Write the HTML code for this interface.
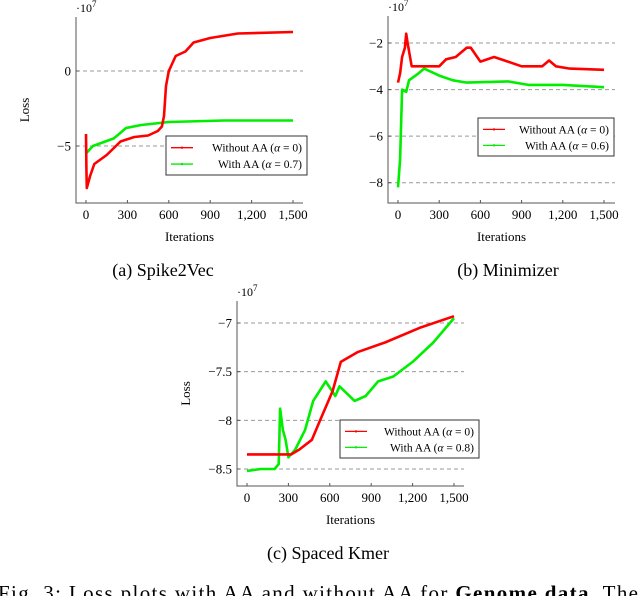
<!DOCTYPE html>
<html><head><meta charset="utf-8"><style>
body{margin:0;background:#fff;width:640px;height:596px;overflow:hidden;position:relative;font-family:"Liberation Serif",serif}
svg{position:absolute;left:0;top:0}
</style></head><body>
<svg id="s" width="640" height="596" viewBox="0 0 640 596" font-family="Liberation Serif, serif"></svg>
<script>
// Chart (a) Spike2Vec
const aRedX=[0,3,6,30,60,150,250,350,450,520,550,565,580,600,650,720,780,900,1100,1500];
const aRedY=[-4.2,-6.5,-7.8,-7,-6.2,-5.6,-4.7,-4.4,-4.3,-4.0,-3.7,-3,-1,0,1,1.3,1.9,2.2,2.5,2.6];
const aGreenX=[0,50,200,240,290,400,600,1000,1500];
const aGreenY=[-5.5,-5,-4.5,-4.2,-3.8,-3.6,-3.4,-3.3,-3.3];
const aYTicks=[0,-5];
// Chart (b) Minimizer
const bRedX=[0,15,30,50,60,70,100,200,300,350,420,500,530,600,700,800,900,1050,1100,1150,1250,1500];
const bRedY=[-3.7,-3.3,-2.6,-2.2,-1.6,-2.0,-3,-3,-3,-2.7,-2.6,-2.2,-2.2,-2.8,-2.6,-2.8,-3,-3,-2.75,-3,-3.1,-3.15];
const bGreenX=[0,15,30,60,80,150,190,300,400,500,800,950,1200,1500];
const bGreenY=[-8.2,-7,-4,-4.1,-3.6,-3.3,-3.1,-3.4,-3.6,-3.7,-3.65,-3.8,-3.8,-3.9];
const bYTicks=[-2,-4,-6,-8];
// Chart (c) Spaced Kmer
const cRedX=[0,320,380,470,530,620,680,800,1000,1250,1500];
const cRedY=[-8.35,-8.35,-8.3,-8.2,-8,-7.7,-7.4,-7.3,-7.2,-7.05,-6.93];
const cGreenX=[0,100,200,230,240,260,280,300,350,420,480,570,640,670,780,860,950,1060,1200,1350,1500];
const cGreenY=[-8.52,-8.5,-8.5,-8.45,-7.88,-8.1,-8.2,-8.38,-8.3,-8.1,-7.8,-7.6,-7.75,-7.65,-7.8,-7.75,-7.6,-7.55,-7.4,-7.2,-6.95];
const cYTicks=[-7,-7.5,-8,-8.5];
const xTicks=[0,300,600,900,1200,1500];
const xTickLabels=["0","300","600","900","1,200","1,500"];

const S=document.getElementById('s');
const NS='http://www.w3.org/2000/svg';
function mk(tag,attrs,parent,text){const e=document.createElementNS(NS,tag);for(const k in attrs)e.setAttribute(k,attrs[k]);if(text!==undefined)e.textContent=text;(parent||S).appendChild(e);return e;}

function chart(id,cfg){
  const g=mk('g',{},S);
  
  
  const X=v=>cfg.x0+(v/1500)*(cfg.x1-cfg.x0);
  const Y=v=>cfg.yA+(v-cfg.vA)/(cfg.vB-cfg.vA)*(cfg.yB-cfg.yA);
  cfg.yt.forEach(t=>{const l=mk('line',{x1:cfg.axL,x2:cfg.axR,y1:Y(t),y2:Y(t),stroke:'#999','stroke-width':1,'stroke-dasharray':'4,3'},g);
    
    const tx=mk('text',{x:cfg.axL-5,y:Y(t)+4.5,'font-size':13,'text-anchor':'end'},g,(t<0?'\u2212':'')+Math.abs(t));
    });
  const ax=mk('path',{d:`M${cfg.axL},${cfg.axT}V${cfg.axB}H${cfg.axR}`,fill:'none',stroke:'#555','stroke-width':1},g);
  
  xTicks.forEach((t,i)=>{mk('line',{x1:X(t),x2:X(t),y1:cfg.axB,y2:cfg.axB-3,stroke:'#555'},g);
    const tx=mk('text',{x:X(t),y:cfg.axB+16,'font-size':13,'text-anchor':'middle'},g,xTickLabels[i]);
    });
  cfg.yt.forEach(t=>mk('line',{x1:cfg.axL,x2:cfg.axL+3,y1:Y(t),y2:Y(t),stroke:'#555'},g));
  const xl=mk('text',{x:(cfg.axL+cfg.axR)/2,y:cfg.axB+38,'font-size':13,'text-anchor':'middle'},g,'Iterations');
  
  if(cfg.loss){const yl=mk('text',{x:0,y:0,'font-size':13,'text-anchor':'middle',transform:`translate(${cfg.axL-47},${(cfg.axT+cfg.axB)/2}) rotate(-90)`},g,'Loss');
    }
  const sc=mk('text',{x:cfg.axL,y:cfg.axT-5,'font-size':12},g,'\u00b710');
  mk('tspan',{dy:-5,'font-size':9},sc,'7');
  
  [[cfg.gx,cfg.gy,'#00ee00','green'],[cfg.rx,cfg.ry,'#ff0000','red']].forEach(([xs,ys,c,n])=>{
    const p=mk('polyline',{points:xs.map((v,i)=>X(v).toFixed(1)+','+Y(ys[i]).toFixed(1)).join(' '),fill:'none',stroke:c,'stroke-width':2.6,'stroke-linejoin':'round'},g);
    
    });
  const L=cfg.leg;
  const lg=mk('g',{},g);
  
  mk('rect',{x:L[0],y:L[1],width:L[2]-L[0],height:L[3]-L[1],fill:'#fff',stroke:'#333','stroke-width':1},lg);
  const h=(L[3]-L[1]);
  [['#ff0000','Without AA (',' = 0)'],['#00ee00','With AA (',' = '+cfg.alpha+')']].forEach((e,i)=>{
    const yy=L[1]+h*(i?0.72:0.3);
    mk('line',{x1:L[0]+5,x2:L[0]+27,y1:yy,y2:yy,stroke:e[0],'stroke-width':1.3},lg);
    mk('circle',{cx:L[0]+16,cy:yy,r:1.2,fill:e[0]},lg);
    const t=mk('text',{x:L[2]-5,y:yy+4,'font-size':11.5,'text-anchor':'end'},lg,e[1]);
    mk('tspan',{'font-style':'italic'},t,'\u03b1');t.appendChild(document.createTextNode(e[2]));
    });
  const cap=mk('text',{x:cfg.capX,y:cfg.capY,'font-size':18,'text-anchor':'middle'},g,cfg.cap);
  
}
chart('spike2vec',{x0:86,x1:293,yA:71,vA:0,yB:146,vB:-5,axL:76,axR:303,axT:17,axB:203,yt:aYTicks,rx:aRedX,ry:aRedY,gx:aGreenX,gy:aGreenY,leg:[166,136,307,175],alpha:'0.7',loss:true,cap:'(a) Spike2Vec',capX:163,capY:276});
chart('minimizer',{x0:398,x1:604,yA:43,vA:-2,yB:182.7,vB:-8,axL:388,axR:615,axT:16,axB:203,yt:bYTicks,rx:bRedX,ry:bRedY,gx:bGreenX,gy:bGreenY,leg:[478,118,614,156],alpha:'0.6',loss:false,cap:'(b) Minimizer',capX:508,capY:276});
chart('spaced-kmer',{x0:247,x1:454,yA:323,vA:-7,yB:469,vB:-8.5,axL:237,axR:464,axT:301,axB:486,yt:cYTicks,rx:cRedX,ry:cRedY,gx:cGreenX,gy:cGreenY,leg:[340,420,479,458],alpha:'0.8',loss:true,cap:'(c) Spaced Kmer',capX:328,capY:559});
const ft=mk('text',{x:-2,y:600,'font-size':21,textLength:640,lengthAdjust:'spacing'},S,'Fig. 3: Loss plots with AA and without AA for ');
mk('tspan',{'font-weight':'bold'},ft,'Genome data');ft.appendChild(document.createTextNode('. The'));

</script>
</body></html>
